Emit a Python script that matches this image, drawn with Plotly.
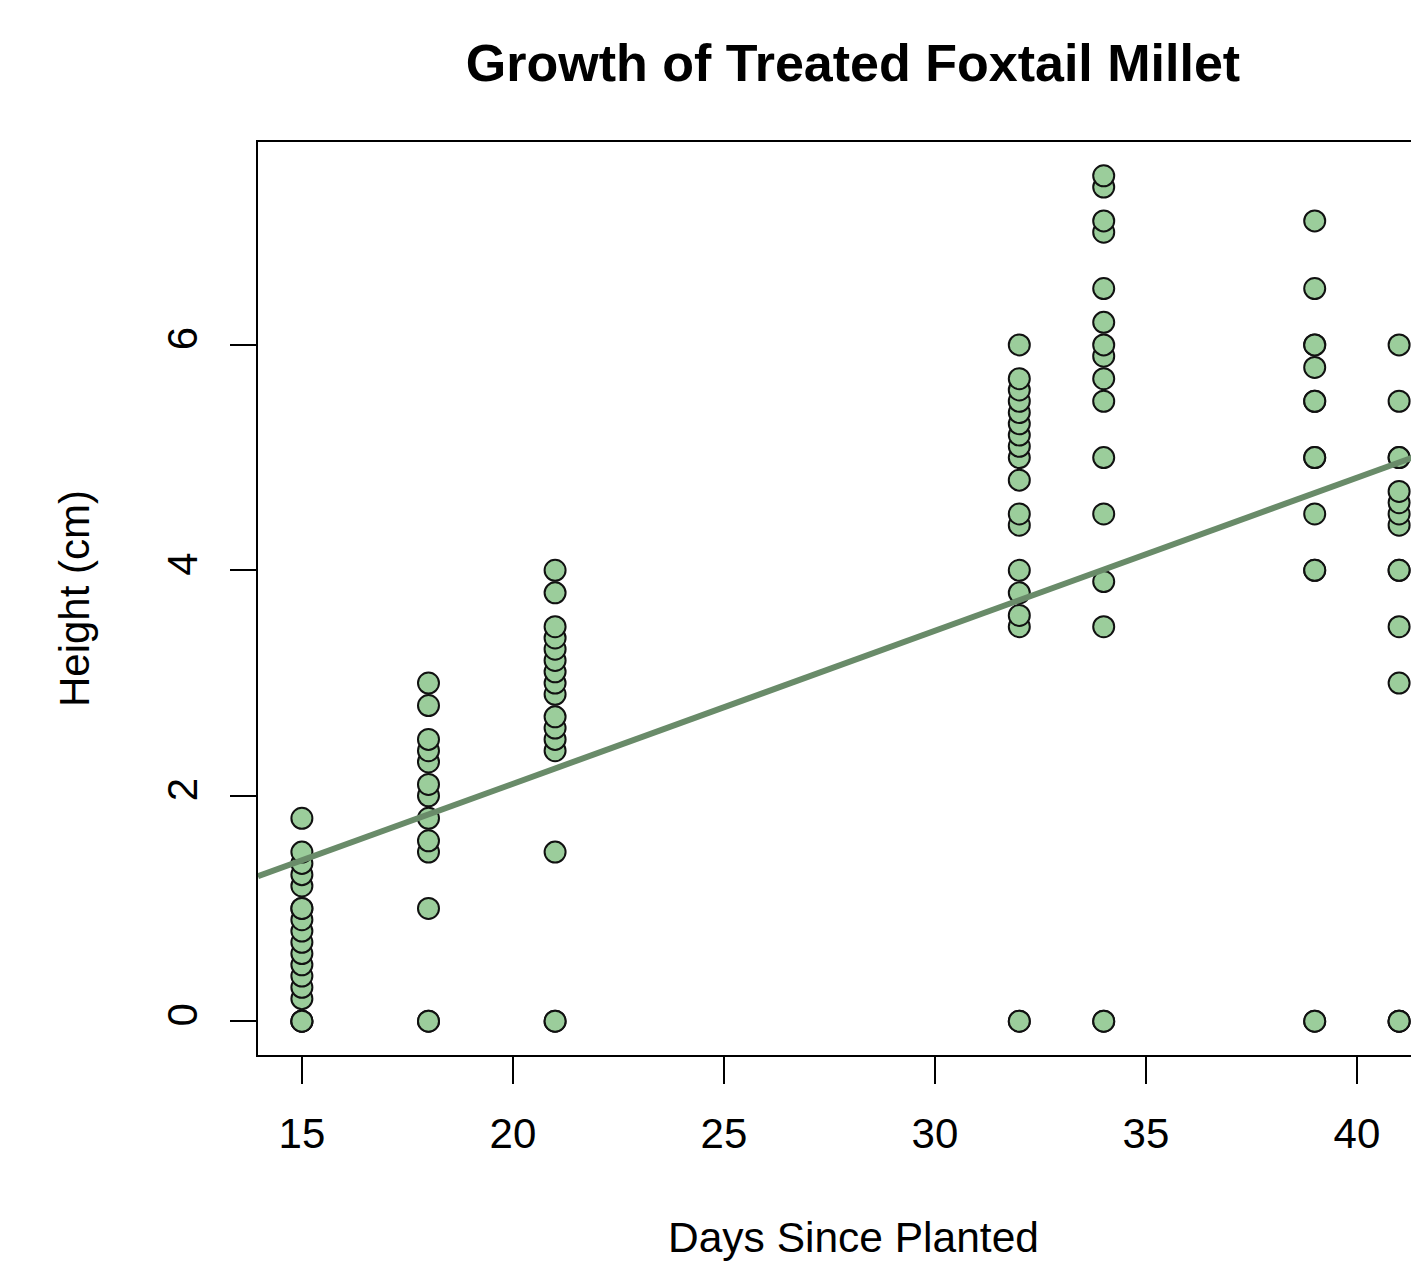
import numpy as np
import plotly.graph_objects as go

# Plant heights (cm) recorded on each measurement day
days = [15, 18, 21, 32, 34, 39, 41]
heights_day15 = [0, 0, 0, 0.2, 0.3, 0.4, 0.5, 0.6, 0.7, 0.8, 0.9, 1.0, 1.0, 1.2, 1.3, 1.4, 1.5, 1.8]
heights_day18 = [0, 0, 1.0, 1.5, 1.6, 1.8, 2.0, 2.1, 2.3, 2.4, 2.5, 2.8, 3.0]
heights_day21 = [0, 0, 1.5, 2.4, 2.5, 2.6, 2.7, 2.9, 3.0, 3.1, 3.2, 3.3, 3.4, 3.5, 3.8, 4.0]
heights_day32 = [0, 0, 3.5, 3.6, 3.8, 4.0, 4.4, 4.5, 4.8, 5.0, 5.1, 5.2, 5.3, 5.4, 5.5, 5.6, 5.7, 6.0]
heights_day34 = [0, 0, 3.5, 3.9, 4.5, 5.0, 5.5, 5.7, 5.9, 6.0, 6.2, 6.5, 7.0, 7.1, 7.4, 7.5]
heights_day39 = [0, 0, 4.0, 4.0, 4.5, 5.0, 5.0, 5.5, 5.5, 5.8, 6.0, 6.0, 6.5, 7.1]
heights_day41 = [0, 0, 0, 3.0, 3.5, 4.0, 4.0, 4.4, 4.5, 4.6, 4.7, 5.0, 5.0, 5.5, 6.0]

x_ticks = [15, 20, 25, 30, 35, 40]
y_ticks = [0, 2, 4, 6]

groups = [heights_day15, heights_day18, heights_day21, heights_day32,
          heights_day34, heights_day39, heights_day41]
x_all = np.concatenate([[d] * len(h) for d, h in zip(days, groups)]).astype(float)
y_all = np.concatenate(groups).astype(float)

# Least-squares fit (like abline(lm(y ~ x)))
slope, intercept = np.polyfit(x_all, y_all, 1)

# R-style 4% axis padding
xspan = x_all.max() - x_all.min()
x_lo = x_all.min() - 0.04 * xspan
x_hi_full = x_all.max() + 0.04 * xspan
yspan = y_all.max() - y_all.min()
y_lo = y_all.min() - 0.04 * yspan
y_hi = y_all.max() + 0.04 * yspan

W, H = 1411, 1264
ML, MT, MB = 258, 142, 209
# the plotting region runs past the right edge of the page
PLOT_RIGHT = 1443
x_hi = x_lo + (x_hi_full - x_lo) * (W - ML) / (PLOT_RIGHT - ML)
plot_h = H - MT - MB

FONT = "Liberation Sans"

fig = go.Figure()
fig.add_trace(go.Scatter(
    x=x_all, y=y_all, mode="markers",
    marker=dict(size=21, color="#9BCD9B", line=dict(color="#111111", width=2)),
    cliponaxis=True, showlegend=False,
))
fig.add_trace(go.Scatter(
    x=[x_lo, x_hi_full], y=[intercept + slope * x_lo, intercept + slope * x_hi_full],
    mode="lines", line=dict(color="#698B69", width=6),
    showlegend=False,
))

fig.update_layout(
    width=W, height=H,
    margin=dict(l=ML, r=0, t=MT, b=MB),
    paper_bgcolor="white", plot_bgcolor="white",
    font=dict(family=FONT, size=42, color="black"),
    title=dict(
        text="Growth of Treated Foxtail Millet",
        font=dict(family=FONT, size=52, color="black", weight="bold"),
        xref="container", x=853 / W, xanchor="center",
        yref="container", y=1 - 63 / H, yanchor="middle",
    ),
    xaxis=dict(
        range=[x_lo, x_hi], tickvals=x_ticks, ticktext=[str(v) for v in x_ticks],
        showgrid=False, zeroline=False,
        showline=True, mirror=True, linecolor="black", linewidth=2,
        ticks="outside", ticklen=27, tickwidth=2, tickcolor="black",
        ticklabelstandoff=14,
        tickfont=dict(family=FONT, size=42),
        automargin=False,
    ),
    yaxis=dict(
        range=[y_lo, y_hi], tickvals=y_ticks, ticktext=[str(v) for v in y_ticks],
        showgrid=False, zeroline=False,
        showline=True, mirror=False, linecolor="black", linewidth=2,
        ticks="outside", ticklen=26, tickwidth=2, tickcolor="black",
        tickangle=-90, ticklabelstandoff=16,
        tickfont=dict(family=FONT, size=42),
        title=dict(text="Height (cm)", font=dict(family=FONT, size=42), standoff=57),
        automargin=False,
    ),
    annotations=[dict(
        text="Days Since Planted", showarrow=False,
        font=dict(family=FONT, size=42.5, color="black"),
        xref="paper", x=(853 - ML) / (W - ML), xanchor="center",
        yref="paper", y=-(1237 - (H - MB)) / plot_h, yanchor="middle",
    )],
)

fig.write_html("out.html")
